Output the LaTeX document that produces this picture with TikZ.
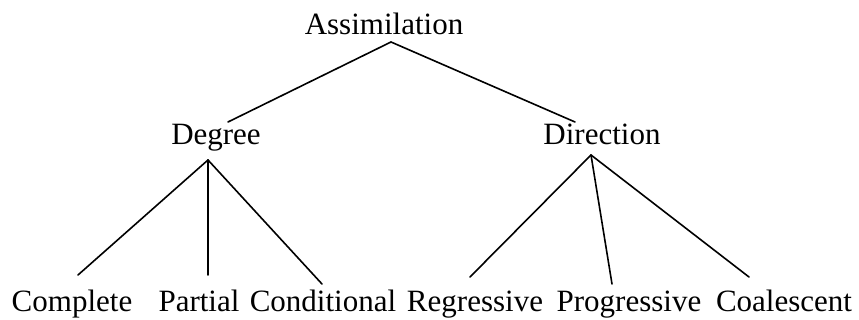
\documentclass[tikz,border=0pt]{standalone}
\usepackage{fontspec}
\setmainfont{Liberation Serif}
\begin{document}
\begin{tikzpicture}[x=1pt,y=1pt,
  label/.style={inner sep=0pt,anchor=base,font=\fontsize{31}{36}\selectfont},
  branch/.style={line width=1.6pt,line cap=round}]
\useasboundingbox (0,0) rectangle (859,320);

% labels
\node[label] (assim) at (384,285) {Assimilation};
\node[label] (degree) at (216,175) {Degree};
\node[label] (direction) at (602,175) {Direction};
\node[label] (complete) at (72,8) {Complete};
\node[label] (partial) at (199,8) {Partial};
\node[label] (conditional) at (323,8) {Conditional};
\node[label] (regressive) at (475,8) {Regressive};
\node[label] (progressive) at (629,8) {Progressive};
\node[label] (coalescent) at (784,8) {Coalescent};

% branch end points
\coordinate (assimFoot) at (391,278);
\coordinate (degreeHead) at (228,198);
\coordinate (directionHead) at (575,198);
\coordinate (degreeFoot) at (208,160);
\coordinate (directionFoot) at (591,165);
\coordinate (completeHead) at (78,45);
\coordinate (partialHead) at (208,45);
\coordinate (conditionalHead) at (322,36);
\coordinate (regressiveHead) at (470,43);
\coordinate (progressiveHead) at (612,36);
\coordinate (coalescentHead) at (749,43);

% branches
\draw[branch] (degreeHead) -- (assimFoot) -- (directionHead);
\draw[branch] (degreeFoot) -- (completeHead);
\draw[branch] (degreeFoot) -- (partialHead);
\draw[branch] (degreeFoot) -- (conditionalHead);
\draw[branch] (directionFoot) -- (regressiveHead);
\draw[branch] (directionFoot) -- (progressiveHead);
\draw[branch] (directionFoot) -- (coalescentHead);
\end{tikzpicture}
\end{document}
